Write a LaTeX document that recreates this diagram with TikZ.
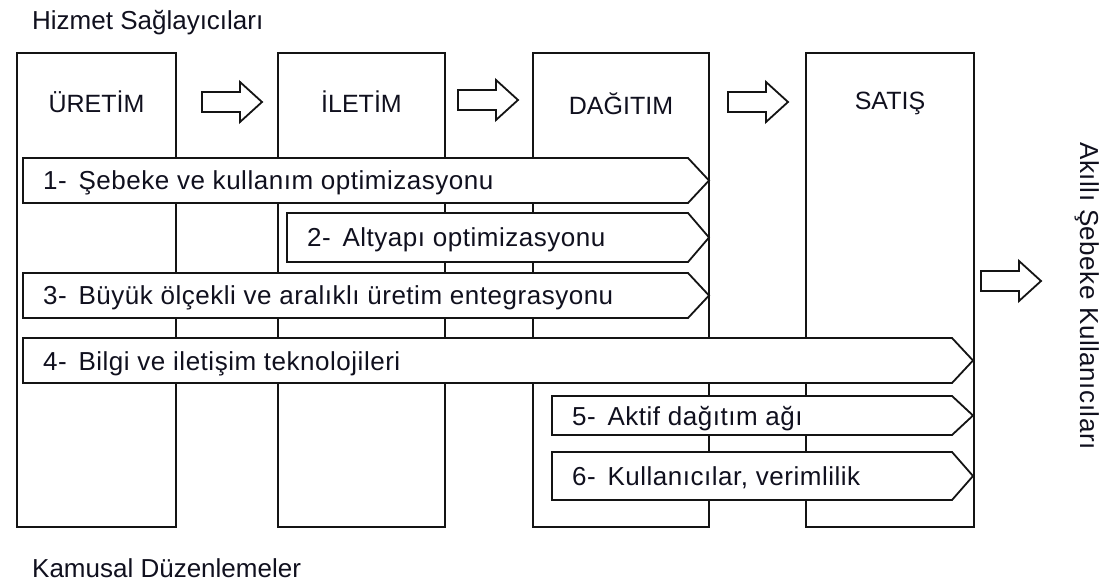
\documentclass[tikz,border=0pt]{standalone}
\usepackage{fontspec}
\setmainfont{Liberation Sans}
\newfontfamily\barfont[LetterSpace=2]{Liberation Sans}
\definecolor{linec}{HTML}{141414}
\definecolor{txt}{HTML}{10101E}
\tikzset{
  col/.style={draw=linec, fill=white, line width=1.8pt, inner sep=0pt},
  colhead/.style={font=\fontsize{25}{30}\selectfont, text=txt, anchor=base, inner sep=0pt},
  bartext/.style={font=\barfont\fontsize{26}{30}\selectfont, text=txt, anchor=base west, inner sep=0pt},
  sidetext/.style={font=\fontsize{26}{30}\selectfont, text=txt, anchor=base west, inner sep=0pt},
  band/.style={draw=linec, fill=white, line width=1.8pt, line join=miter},
  blockarr/.style={draw=linec, fill=white, line width=1.8pt, line join=miter},
}
% band with a pointed right end: left x, tip x, top y, bottom y
\newcommand\bandshape[4]{%
  \draw[band] (#1,#3) -- ({#2-21},#3) -- (#2,{(#3+#4)/2}) -- ({#2-21},#4) -- (#1,#4) -- cycle;}
% hollow block arrow: left x, centre y
\newcommand\hollowarrow[2]{%
  \draw[blockarr] (#1,{#2-10}) -- ({#1+38},{#2-10}) -- ({#1+38},{#2-20}) -- ({#1+60},#2)
    -- ({#1+38},{#2+20}) -- ({#1+38},{#2+10}) -- (#1,{#2+10}) -- cycle;}
\begin{document}
\begin{tikzpicture}[x=1pt,y=-1pt]
  \useasboundingbox[fill=white] (0,0) rectangle (1108,585);

  % value chain columns
  \node[col, minimum width=159pt, minimum height=474pt] (uretim) at (96.5,290) {};
  \node[col, minimum width=167pt, minimum height=474pt] (iletim) at (361.5,290) {};
  \node[col, minimum width=176pt, minimum height=474pt] (dagitim) at (621,290) {};
  \node[col, minimum width=168pt, minimum height=474pt] (satis) at (890,290) {};

  \node[colhead] (uretimT) at (96.5,113) {ÜRETİM};
  \node[colhead] (iletimT) at (361.5,113) {İLETİM};
  \node[colhead] (dagitimT) at (621,115) {DAĞITIM};
  \node[colhead] (satisT) at (890,110) {SATIŞ};

  % arrows between the columns
  \hollowarrow{202}{102}
  \hollowarrow{458}{100}
  \hollowarrow{728}{102}
  \hollowarrow{981}{281}

  % application bands
  \bandshape{23}{709}{158}{203}
  \node[bartext] (b1) at (43,190) {1-\hspace{0.45em}Şebeke ve kullanım optimizasyonu};
  \bandshape{287}{709}{213}{262}
  \node[bartext] (b2) at (307,247) {2-\hspace{0.45em}Altyapı optimizasyonu};
  \bandshape{23}{709}{273}{318}
  \node[bartext] (b3) at (43,305) {3-\hspace{0.45em}Büyük ölçekli ve aralıklı üretim entegrasyonu};
  \bandshape{23}{973}{338}{383}
  \node[bartext] (b4) at (43,370) {4-\hspace{0.45em}Bilgi ve iletişim teknolojileri};
  \bandshape{552}{973}{396}{435}
  \node[bartext] (b5) at (572,425) {5-\hspace{0.45em}Aktif dağıtım ağı};
  \bandshape{552}{973}{452}{500}
  \node[bartext] (b6) at (572,485) {6-\hspace{0.45em}Kullanıcılar, verimlilik};

  % surrounding labels
  \node[sidetext] (providers) at (32,30) {Hizmet Sağlayıcıları};
  \node[sidetext] (public) at (32,577) {Kamusal Düzenlemeler};
  \node[font=\barfont\fontsize{26}{30}\selectfont, text=txt, anchor=base, inner sep=0pt, rotate=-90]
    (users) at (1080,296) {Akıllı Şebeke Kullanıcıları};
\end{tikzpicture}
\end{document}
